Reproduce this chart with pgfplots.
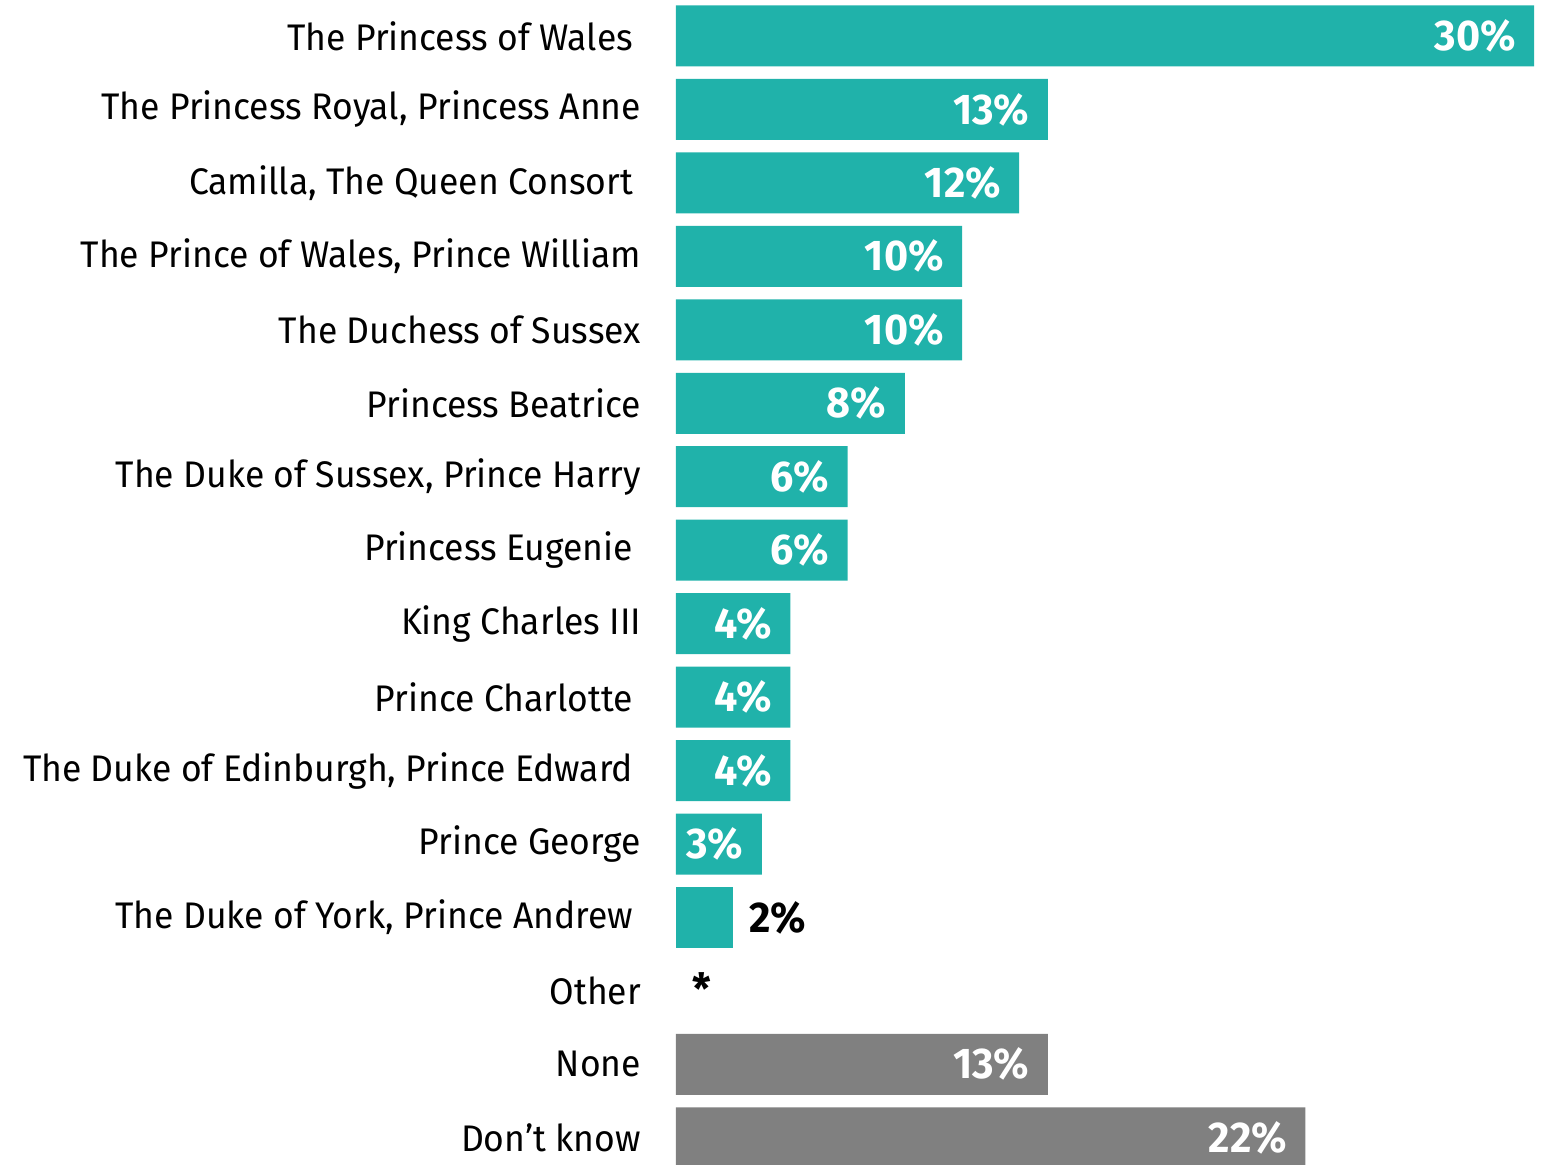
\documentclass[border=0pt]{standalone}
\usepackage{fontspec}
\setmainfont{Fira Sans}[FakeStretch=0.96]
\usepackage{pgfplots}
\pgfplotsset{compat=1.18}
\definecolor{teal}{HTML}{20B2AA}
\definecolor{grey}{HTML}{808080}
\begin{document}
\begin{tikzpicture}
\begin{axis}[
  xbar, bar shift=0pt, bar width=30.5pt,
  scale only axis, width=436.5pt, height=582.5pt,
  xmin=0, xmax=30.52, ymin=-0.49, ymax=15.37, y dir=reverse,
  axis line style={draw=none}, tick style={draw=none},
  xtick=\empty, ytick={0,...,15},
  yticklabels={The Princess of Wales\kern4pt,
    {The Princess Royal, Princess Anne},
    {Camilla, The Queen Consort\kern4pt},
    {The Prince of Wales, Prince William},
    The Duchess of Sussex, Princess Beatrice,
    {The Duke of Sussex, Prince Harry},
    Princess Eugenie\kern4pt, King Charles III,
    Prince Charlotte\kern4pt,
    {The Duke of Edinburgh, Prince Edward\kern4pt},
    Prince George,
    {The Duke of York, Prince Andrew\kern4pt},
    Other, None, Don’t know},
  yticklabel style={anchor=east, inner sep=0pt, xshift=-13pt, font=\fontsize{18.5}{20}\selectfont},
  point meta=explicit symbolic,
  nodes near coords,
  clip=false,
]
% teal bars, label inside
\addplot[fill=teal, draw=none,
  every node near coord/.style={anchor=east, inner sep=0pt, xshift=-9pt, text=white, font=\fontsize{21.5}{22}\selectfont\bfseries}]
  coordinates {
  (30,0) [30\%] (13,1) [13\%] (12,2) [12\%] (10,3) [10\%] (10,4) [10\%]
  (8,5) [8\%] (6,6) [6\%] (6,7) [6\%] (4,8) [4\%] (4,9) [4\%] (4,10) [4\%]
  (3,11) [3\%]};
% small bar, label outside
\addplot[fill=teal, draw=none,
  every node near coord/.style={anchor=west, inner sep=0pt, xshift=8pt, text=black, font=\fontsize{21.5}{22}\selectfont\bfseries}]
  coordinates {(2,12) [2\%]};
% Other: no bar
\addplot[draw=none, fill=none,
  every node near coord/.style={anchor=west, inner sep=0pt, xshift=8pt, yshift=1pt, text=black, font=\fontsize{21.5}{22}\selectfont\bfseries}]
  coordinates {(0,13) [*]};
% grey bars
\addplot[fill=grey, draw=none,
  every node near coord/.style={anchor=east, inner sep=0pt, xshift=-9pt, text=white, font=\fontsize{21.5}{22}\selectfont\bfseries}]
  coordinates {(13,14) [13\%] (22,15) [22\%]};
\coordinate (BL) at (rel axis cs:0,0);
\coordinate (TR) at (rel axis cs:1,1);
\end{axis}
\pgfresetboundingbox
\path ([xshift=-338pt]BL) rectangle (TR);
\end{tikzpicture}
\end{document}
